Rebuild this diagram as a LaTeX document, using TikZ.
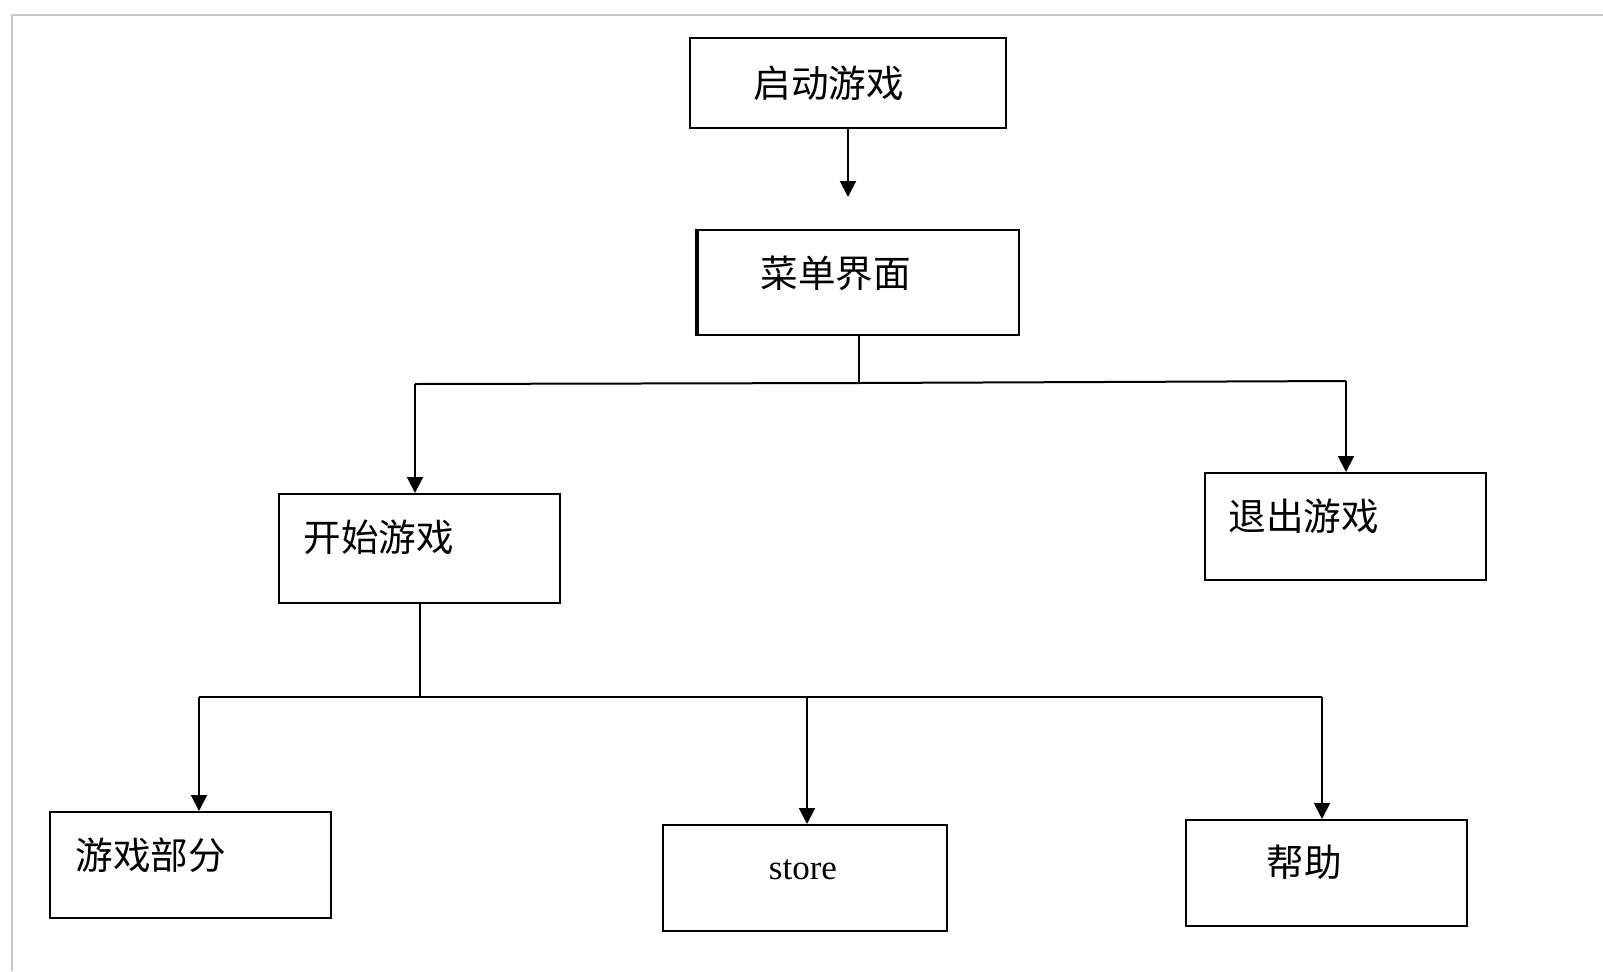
\documentclass[tikz,border=0pt]{standalone}
\usepackage{fontspec}
\setmainfont{Liberation Serif}
\newfontfamily\cjk{Noto Sans CJK SC}
\usetikzlibrary{arrows.meta}
\tikzset{
  box/.style={draw, line width=1pt, inner sep=0pt, fill=white},
  lbl/.style={inner sep=0pt, anchor=west, font=\cjk\fontsize{18.8pt}{22pt}\selectfont},
  conn/.style={draw, line width=1pt},
  arr/.style={conn, -{Triangle[length=8pt,width=8pt]}}
}
\begin{document}
\begin{tikzpicture}[x=0.5pt,y=-0.5pt]
\useasboundingbox (0,0) rectangle (1603,971);
\draw[black!22, line width=1pt] (12,971) -- (12,15) -- (1603,15);

% boxes
\node[box, minimum width=158pt,   minimum height=45pt]   (b1) at (848,83) {};
\node[box, minimum width=160.5pt, minimum height=52.5pt] (b2) at (858.5,282.5) {};
\node[box, minimum width=140.5pt, minimum height=54.5pt] (b3) at (419.5,548.5) {};
\node[box, minimum width=140.5pt, minimum height=53.5pt] (b4) at (1345.5,526.5) {};
\node[box, minimum width=140.5pt, minimum height=53pt]   (b5) at (190.5,865) {};
\node[box, minimum width=142pt,   minimum height=53pt]   (b6) at (805,878) {};
\node[box, minimum width=140.5pt, minimum height=53pt]   (b7) at (1326.5,873) {};
\draw[line width=2pt] (b2.north west) -- (b2.south west);

% labels
\node[lbl] (t1) at (753,83) {启动游戏};
\node[lbl] (t2) at (760,273) {菜单界面};
\node[lbl] (t3) at (303,537) {开始游戏};
\node[lbl] (t4) at (1228,516) {退出游戏};
\node[lbl] (t5) at (75,855) {游戏部分};
\node[inner sep=0pt, font=\fontsize{17.5pt}{20pt}\selectfont] (t6) at (803,870) {store};
\node[lbl] (t7) at (1266,862) {帮助};

% connectors
\coordinate (a1) at (848,197);
\draw[arr] (b1.south) -- (a1);

\coordinate (j1) at (858.5,383);
\coordinate (jl) at (415,384);
\coordinate (jr) at (1346,381);
\draw[conn] (b2.south) -- (j1);
\draw[conn] (jl) -- (j1) -- (jr);
\draw[arr] (jl) -- (jl |- b3.north);
\draw[arr] (jr) -- (jr |- b4.north);

\coordinate (j2) at (419.5,697);
\coordinate (kl) at (199,697);
\coordinate (km) at (807,697);
\coordinate (kr) at (1322,697);
\draw[conn] (b3.south) -- (j2);
\draw[conn] (kl) -- (kr);
\draw[arr] (kl) -- (kl |- b5.north);
\draw[arr] (km) -- (km |- b6.north);
\draw[arr] (kr) -- (kr |- b7.north);
\end{tikzpicture}
\end{document}
